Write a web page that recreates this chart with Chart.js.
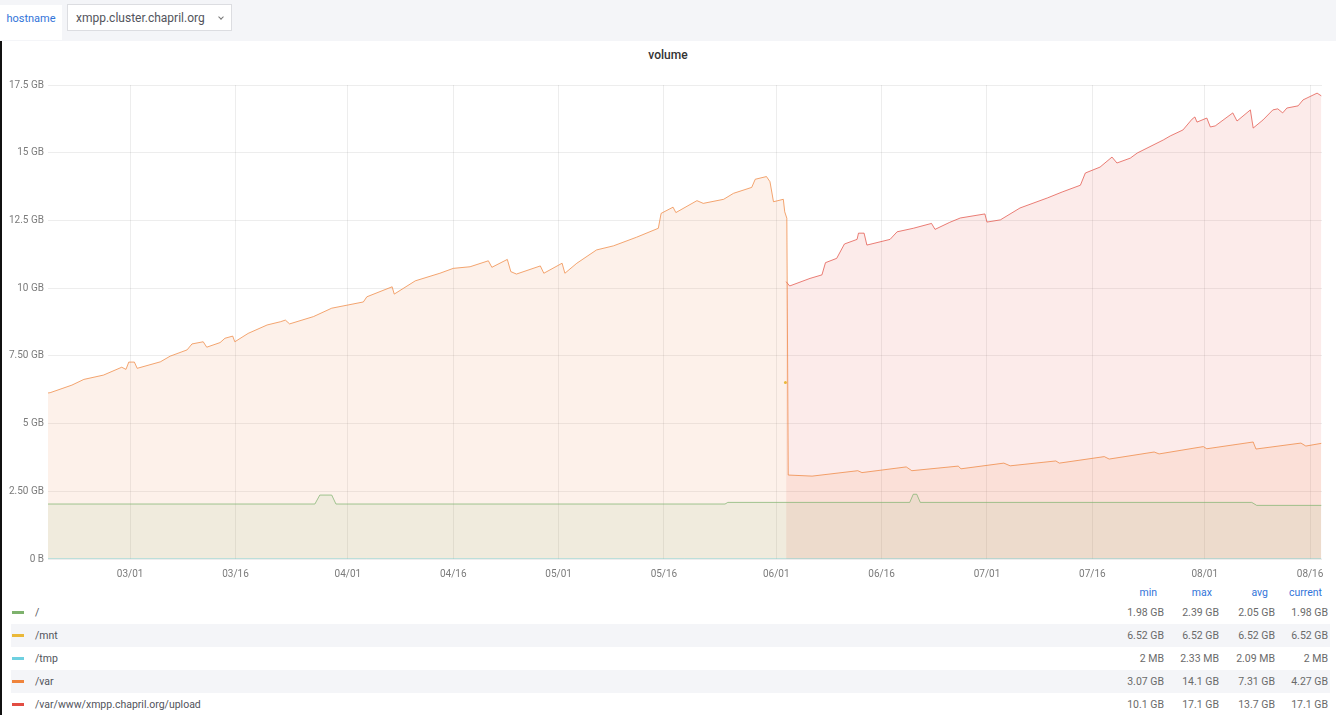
<!DOCTYPE html>
<html>
<head>
<meta charset="utf-8">
<script src="https://cdn.jsdelivr.net/npm/chart.js@4/dist/chart.umd.min.js"></script>
<style>
  html, body { margin:0; padding:0; }
  body {
    width:1336px; height:715px; position:relative; overflow:hidden; background:#fff;
    font-family: Roboto, "Helvetica Neue", Arial, sans-serif;
  }
  .topbar { position:absolute; left:0; top:0; width:1336px; height:41px; background:#f4f5f8; }
  .varlabel {
    position:absolute; left:0; top:5px; width:62px; height:35px; background:#fff;
    color:#3274d9; font-size:11px; line-height:27px; text-align:center;
  }
  .varpick {
    position:absolute; left:67px; top:4px; width:165px; height:27px; background:#fff;
    border:1px solid #dcdde1; box-sizing:border-box; color:#52545c; font-size:12px;
    line-height:26px; padding-left:8px;
  }
  .caret {
    position:absolute; left:151px; top:10px; width:3px; height:3px;
    border-right:1px solid #777; border-bottom:1px solid #777; transform:rotate(45deg);
  }
  .edge { position:absolute; left:0; top:41px; width:2px; height:674px; background:#111; }
  .title {
    position:absolute; left:0; width:1336px; top:48px; text-align:center;
    font-size:12px; font-weight:500; color:#333;
  }
  #wrap { position:absolute; left:0; top:75px; width:1336px; height:506px; }
  .lrow { position:absolute; left:11px; width:1319px; height:23px; line-height:23px; font-size:10.5px; }
  .lrow.alt { background:#f4f5f8; }
  .dash { position:absolute; left:1px; top:10px; width:12px; height:3px; }
  .lname { position:absolute; left:24px; color:#52545c; }
  .lval { position:absolute; text-align:right; width:60px; color:#6a6a6a; }
  .lhead { position:absolute; text-align:right; width:60px; color:#3274d9; top:584px; font-size:10.5px; line-height:18px; }
</style>
</head>
<body>

<div class="topbar">
  <div class="varlabel">hostname</div>
  <div class="varpick">xmpp.cluster.chapril.org<span class="caret"></span></div>
</div>
<div class="edge"></div>
<div class="title">volume</div>
<div id="wrap"><canvas id="chartVolume" width="1336" height="506"></canvas></div>
<div id="legend"></div>

<script>
/* ===================== DATA ===================== */

// x = day of year (03/01 = 59), y = GB
const xTickDays   = [59, 74, 90, 105, 120, 135, 151, 166, 181, 196, 212, 227];
const xTickLabels = ["03/01","03/16","04/01","04/16","05/01","05/16","06/01","06/16","07/01","07/16","08/01","08/16"];

const yTickValues = [0, 2.5, 5, 7.5, 10, 12.5, 15, 17.5];
const yTickLabels = ["0 B","2.50 GB","5 GB","7.50 GB","10 GB","12.5 GB","15 GB","17.5 GB"];

const X_MIN = 47.3;
const X_MAX = 228.7;

const rootData = [
  [47.3,2.03],[85.3,2.03],[86.0,2.36],[87.7,2.36],[88.3,2.03],[143.7,2.03],[144.1,2.09],
  [170.0,2.09],[170.5,2.39],[171.0,2.39],[171.5,2.09],[218.7,2.09],[219.4,1.98],[228.6,1.98]
];

const mntData = [[152.3,6.52]];

const tmpData = [[47.3,0.002],[228.6,0.002]];

const varData = [
  [47.3,6.13],[47.6,6.14],[50.7,6.42],[52.4,6.63],[55.2,6.79],[57.8,7.08],[58.4,7.0],
  [58.8,7.27],[59.6,7.27],[60.0,7.04],[63.3,7.28],[64.7,7.49],[67.1,7.72],[67.8,7.94],
  [69.4,8.02],[69.9,7.82],[71.8,7.99],[72.5,8.15],[73.6,8.23],[73.9,8.02],[75.8,8.33],
  [78.5,8.64],[80.4,8.76],[81.1,8.82],[81.7,8.68],[85.1,8.95],[87.7,9.26],[92.2,9.49],
  [92.7,9.68],[96.3,10.05],[96.6,9.78],[99.6,10.27],[103.1,10.55],[105.0,10.73],
  [107.4,10.79],[110.0,11.01],[110.5,10.77],[112.7,11.06],[113.2,10.61],[114.0,10.52],
  [117.4,10.82],[117.9,10.55],[120.5,10.92],[120.9,10.55],[122.6,10.92],[125.4,11.41],
  [127.8,11.56],[131.1,11.88],[134.2,12.21],[134.6,12.76],[136.3,12.99],[136.7,12.79],
  [139.7,13.23],[140.6,13.13],[143.5,13.28],[144.9,13.5],[147.5,13.72],[148.0,14.02],
  [149.6,14.12],[150.1,13.93],[150.6,13.19],[152.0,13.28],[152.2,12.82],[152.5,12.58],
  [152.7,3.1],[156.1,3.06],[162.6,3.26],[163.2,3.19],[169.5,3.4],[170.3,3.26],
  [176.9,3.43],[177.3,3.33],[183.4,3.54],[184.3,3.44],[190.8,3.62],[191.3,3.54],
  [197.7,3.78],[198.4,3.69],[204.8,3.95],[205.5,3.88],[211.8,4.15],[212.3,4.07],
  [218.9,4.32],[219.3,4.06],[225.7,4.28],[226.4,4.17],[228.6,4.27]
];

const uploadData = [
  [152.4,10.24],[152.9,10.08],[155.8,10.36],[157.5,10.49],[158.0,10.94],[159.6,11.1],
  [160.7,11.63],[162.5,11.8],[162.7,12.03],[163.5,12.03],[163.9,11.59],[167.2,11.8],
  [168.2,12.08],[170.5,12.21],[173.1,12.39],[173.6,12.17],[175.7,12.43],[177.2,12.59],
  [180.7,12.74],[181.0,12.44],[182.9,12.52],[185.7,12.96],[189.6,13.33],[191.7,13.55],
  [194.3,13.8],[195.0,14.25],[197.1,14.47],[198.8,14.84],[199.5,14.62],[201.4,14.8],
  [202.4,14.99],[206.1,15.47],[207.1,15.62],[208.9,15.84],[210.2,16.24],[210.6,16.32],
  [210.9,16.13],[212.3,16.28],[212.8,15.95],[213.5,15.99],[216.0,16.47],[216.6,16.17],
  [218.5,16.58],[218.9,15.91],[220.3,16.21],[221.7,16.58],[222.4,16.62],[223.1,16.47],
  [223.7,16.65],[225.3,16.73],[226.0,16.95],[228.0,17.2],[228.6,17.1]
];

/* ===================== LEGEND ===================== */

const seriesNames   = ["/", "/mnt", "/tmp", "/var", "/var/www/xmpp.chapril.org/upload"];
const legendMin     = ["1.98 GB","6.52 GB","2 MB","3.07 GB","10.1 GB"];
const legendMax     = ["2.39 GB","6.52 GB","2.33 MB","14.1 GB","17.1 GB"];
const legendAvg     = ["2.05 GB","6.52 GB","2.09 MB","7.31 GB","13.7 GB"];
const legendCurrent = ["1.98 GB","6.52 GB","2 MB","4.27 GB","17.1 GB"];

const COLORS = ["#7eb26d", "#eab839", "#6ed0e0", "#ef843c", "#e24d42"];

/* ===================== HELPERS ===================== */

function pts(arr) {
  return arr.map(p => ({ x: p[0], y: p[1] }));
}

function alpha(hex, a) {
  const n = parseInt(hex.slice(1), 16);
  return `rgba(${n >> 16},${(n >> 8) & 255},${n & 255},${a})`;
}

function areaSeries(label, data, color) {
  return {
    label,
    data: pts(data),
    borderColor: alpha(color, 0.72),
    backgroundColor: alpha(color, 0.11),
    borderWidth: 1,
    fill: "origin",
    pointRadius: 0,
    tension: 0
  };
}

/* ===================== CHART ===================== */

new Chart(document.getElementById("chartVolume"), {
  type: "line",
  data: {
    datasets: [
      areaSeries(seriesNames[0], rootData, COLORS[0]),
      {
        label: seriesNames[1],
        data: pts(mntData),
        showLine: false,
        pointRadius: 1.5,
        pointBorderWidth: 0,
        pointBackgroundColor: COLORS[1],
        borderColor: COLORS[1]
      },
      areaSeries(seriesNames[2], tmpData, COLORS[2]),
      areaSeries(seriesNames[3], varData, COLORS[3]),
      areaSeries(seriesNames[4], uploadData, COLORS[4])
    ]
  },
  options: {
    responsive: false,
    animation: false,
    layout: { padding: { top: 10, right: 14, left: 0, bottom: 0 } },
    plugins: { legend: { display: false }, tooltip: { enabled: false } },
    scales: {
      x: {
        type: "linear",
        min: X_MIN,
        max: X_MAX,
        afterBuildTicks: s => { s.ticks = xTickDays.map(v => ({ value: v })); },
        afterFit: s => { s.height = 22; },
        ticks: {
          callback: (v, i) => xTickLabels[i],
          color: "#7b7b7b",
          font: { family: "Roboto", size: 10 },
          padding: 9,
          maxRotation: 0,
          autoSkip: false
        },
        grid: { color: "rgba(0,0,0,0.07)", drawTicks: false },
        border: { display: false }
      },
      y: {
        min: 0,
        max: 17.5,
        afterBuildTicks: s => { s.ticks = yTickValues.map(v => ({ value: v })); },
        afterFit: s => { s.width = 48; },
        ticks: {
          callback: (v, i) => yTickLabels[i],
          color: "#7b7b7b",
          font: { family: "Roboto", size: 10 },
          padding: 4
        },
        grid: { color: "rgba(0,0,0,0.07)", drawTicks: false },
        border: { display: false }
      }
    }
  }
});

/* ===================== LEGEND TABLE ===================== */

const valueRight = [1164, 1219, 1275, 1328];
const headRight  = [1157, 1212, 1268, 1322];
const heads      = ["min", "max", "avg", "current"];

let html = heads.map((h, i) =>
  `<div class="lhead" style="left:${headRight[i] - 60}px">${h}</div>`
).join("");

html += seriesNames.map((name, r) => {
  const vals = [legendMin[r], legendMax[r], legendAvg[r], legendCurrent[r]];
  return `
    <div class="lrow${r % 2 ? " alt" : ""}" style="top:${601 + r * 23}px">
      <div class="dash" style="background:${COLORS[r]}"></div>
      <div class="lname">${name}</div>
      ${vals.map((v, i) => `<div class="lval" style="left:${valueRight[i] - 11 - 60}px">${v}</div>`).join("")}
    </div>`;
}).join("");

document.getElementById("legend").innerHTML = html;
</script>
</body>
</html>
